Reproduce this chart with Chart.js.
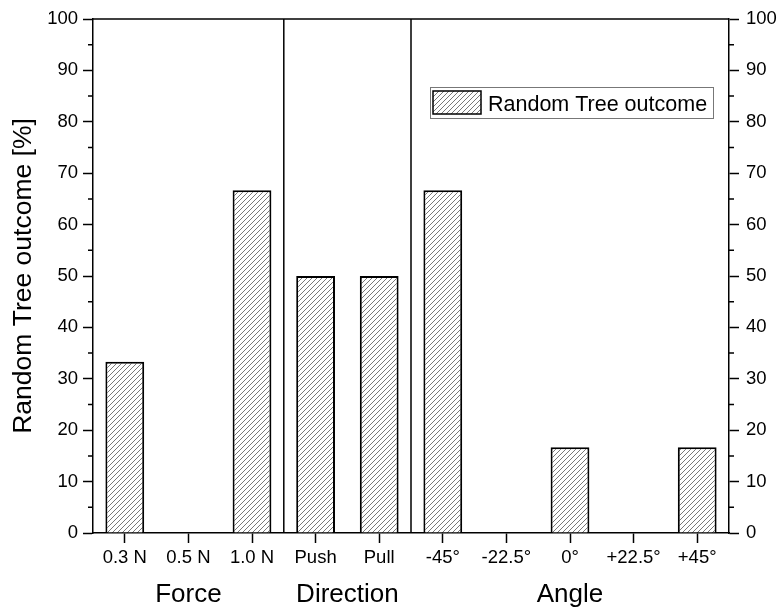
<!DOCTYPE html>
<html>
<head>
<meta charset="utf-8">
<title>Random Tree outcome</title>
<script src="https://cdn.jsdelivr.net/npm/chart.js@4.4.1/dist/chart.umd.min.js"></script>
<style>
    html, body { margin: 0; padding: 0; background: #fff; }
    #chart-box { width: 778px; height: 610px; }
</style>
</head>
<body>
<div id="chart-box"><canvas id="outcomeChart" width="778" height="610"></canvas></div>
<script>
// Values
const categories = ['0.3 N', '0.5 N', '1.0 N', 'Push', 'Pull', '-45°', '-22.5°', '0°', '+22.5°', '+45°'];
const outcome = [33.3, 0, 66.7, 50, 50, 66.7, 0, 16.7, 0, 16.7];
const groupNames = ['Force', 'Direction', 'Angle'];
const groupFirst = [0, 3, 5];
const groupLast = [2, 4, 9];
const seriesLabel = 'Random Tree outcome';
const yTitle = 'Random Tree outcome [%]';

const FONT = "'Liberation Sans', Arial, sans-serif";

// diagonal hatch like the origin export
function makeHatch() {
    const s = 5;
    const tile = document.createElement('canvas');
    tile.width = s;
    tile.height = s;
    const c = tile.getContext('2d');
    c.fillStyle = '#fff';
    c.fillRect(0, 0, s, s);
    c.strokeStyle = '#555';
    c.lineWidth = 0.8;
    c.beginPath();
    c.moveTo(-1, s + 1); c.lineTo(s + 1, -1);
    c.moveTo(-1, 1); c.lineTo(1, -1);
    c.moveTo(s - 1, s + 1); c.lineTo(s + 1, s - 1);
    c.stroke();
    return c.createPattern(tile, 'repeat');
}

const ctx = document.getElementById('outcomeChart').getContext('2d');
const hatch = makeHatch();

// frame, minor ticks, group separators, group names and the boxed legend
const extrasPlugin = {
    id: 'extras',
    afterDraw(chart) {
        const { ctx, chartArea } = chart;
        const x = chart.scales.x;
        const y = chart.scales.y;
        ctx.save();
        ctx.strokeStyle = '#000';
        ctx.lineWidth = 1.5;

        // top frame line
        ctx.beginPath();
        ctx.moveTo(chartArea.left, chartArea.top);
        ctx.lineTo(chartArea.right, chartArea.top);
        ctx.stroke();

        // minor ticks on both y axes
        ctx.beginPath();
        for (let v = 5; v < 100; v += 10) {
            const py = y.getPixelForValue(v);
            ctx.moveTo(chartArea.left - 5, py); ctx.lineTo(chartArea.left, py);
            ctx.moveTo(chartArea.right, py); ctx.lineTo(chartArea.right + 5, py);
        }
        ctx.stroke();

        // vertical separators between groups
        ctx.beginPath();
        for (let g = 1; g < groupFirst.length; g++) {
            const px = (x.getPixelForValue(groupFirst[g] - 1) + x.getPixelForValue(groupFirst[g])) / 2;
            ctx.moveTo(px, chartArea.top);
            ctx.lineTo(px, chartArea.bottom);
        }
        ctx.stroke();

        // group names under the tick labels
        ctx.fillStyle = '#000';
        ctx.font = '26px ' + FONT;
        ctx.textAlign = 'center';
        ctx.textBaseline = 'alphabetic';
        groupNames.forEach((name, g) => {
            const px = (x.getPixelForValue(groupFirst[g]) + x.getPixelForValue(groupLast[g])) / 2;
            ctx.fillText(name, px, chartArea.bottom + 69);
        });

        // legend box
        const lx = chartArea.right - 299;
        const ly = chartArea.top + 68;
        ctx.lineWidth = 1;
        ctx.strokeStyle = '#777';
        ctx.strokeRect(lx + 0.5, ly + 0.5, 283, 31);
        ctx.fillStyle = hatch;
        ctx.fillRect(lx + 3, ly + 4, 48, 23);
        ctx.lineWidth = 1.5;
        ctx.strokeStyle = '#000';
        ctx.strokeRect(lx + 3, ly + 4, 48, 23);
        ctx.fillStyle = '#000';
        ctx.font = '21.5px ' + FONT;
        ctx.textAlign = 'left';
        ctx.fillText(seriesLabel, lx + 58, ly + 24);

        ctx.restore();
    }
};

const tickFont = { family: FONT, size: 18.5 };

new Chart(ctx, {
    type: 'bar',
    data: {
        labels: categories,
        datasets: [{
            label: seriesLabel,
            data: outcome,
            backgroundColor: hatch,
            borderColor: '#000',
            borderWidth: 2,
            barPercentage: 0.61,
            categoryPercentage: 1.0
        }]
    },
    options: {
        responsive: false,
        animation: false,
        layout: { padding: { top: 19, left: 0, right: 0, bottom: 0 } },
        plugins: {
            legend: { display: false },
            tooltip: { enabled: false }
        },
        scales: {
            x: {
                offset: true,
                grid: {
                    offset: false,
                    drawOnChartArea: false,
                    tickLength: 10,
                    tickColor: '#000',
                    tickWidth: 1.5
                },
                border: { color: '#000', width: 1.5 },
                ticks: { color: '#000', font: tickFont, padding: 4, maxRotation: 0, autoSkip: false },
                afterFit: (scale) => { scale.height = 77; }
            },
            y: {
                position: 'left',
                min: 0,
                max: 100,
                grid: {
                    drawOnChartArea: false,
                    tickLength: 10,
                    tickColor: '#000',
                    tickWidth: 1.5
                },
                border: { color: '#000', width: 1.5 },
                ticks: { stepSize: 10, color: '#000', font: tickFont, padding: 5 },
                title: {
                    display: true,
                    text: yTitle,
                    color: '#000',
                    font: { family: FONT, size: 26.5 },
                    padding: { top: 8, bottom: 0 }
                },
                afterFit: (scale) => { scale.width = 93; }
            },
            y2: {
                position: 'right',
                min: 0,
                max: 100,
                grid: {
                    drawOnChartArea: false,
                    tickLength: 10,
                    tickColor: '#000',
                    tickWidth: 1.5
                },
                border: { color: '#000', width: 1.5 },
                ticks: { stepSize: 10, color: '#000', font: tickFont, padding: 7 },
                afterFit: (scale) => { scale.width = 49; }
            }
        }
    },
    plugins: [extrasPlugin]
});
</script>
</body>
</html>
